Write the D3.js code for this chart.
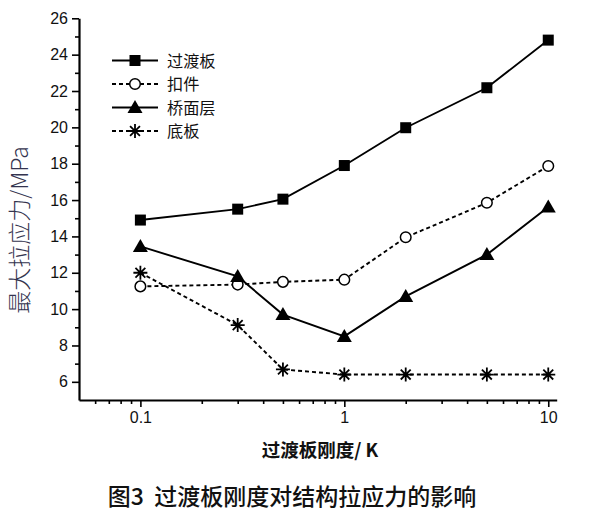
<!DOCTYPE html>
<html><head><meta charset="utf-8">
<script src="https://cdn.jsdelivr.net/npm/d3@7"></script>
<style>body{margin:0;background:#fff;} svg{display:block;}</style>
</head><body>
<svg id="c" width="604" height="515"></svg>
<script>
const xValues = [0.1, 0.3, 0.5, 1, 2, 5, 10];
const seriesNames = ["过渡板", "扣件", "桥面层", "底板"];
const guoduban = [14.9, 15.5, 16.05, 17.9, 19.98, 22.18, 24.8];
const koujian = [11.25, 11.35, 11.5, 11.62, 13.95, 15.85, 17.87];
const qiaomianceng = [13.45, 11.8, 9.7, 8.5, 10.7, 13.0, 15.62];
const diban = [12.0, 9.12, 6.68, 6.4, 6.4, 6.4, 6.4];
const xTickLabels = ["0.1", "1", "10"];
const yTickValues = [6, 8, 10, 12, 14, 16, 18, 20, 22, 24, 26];
const xLabel = "过渡板刚度/ K";
const yLabel = "最大拉应力/MPa";
const caption = "图3  过渡板刚度对结构拉应力的影响";

const svg = d3.select("#c");
const x = d3.scaleLog().domain([0.05, 11]).range([79, 556.7]);
const y = d3.scaleLinear().domain([5, 26]).range([400, 18.3]);

const series = [
  {name: seriesNames[0], values: guoduban, dash: null, marker: "square"},
  {name: seriesNames[1], values: koujian, dash: "4,3", marker: "circle"},
  {name: seriesNames[2], values: qiaomianceng, dash: null, marker: "triangle"},
  {name: seriesNames[3], values: diban, dash: "4,3", marker: "star"}
];

// axes
const minorX = [0.06,0.07,0.08,0.09,0.2,0.3,0.4,0.5,0.6,0.7,0.8,0.9,2,3,4,5,6,7,8,9];
const majorX = xTickLabels.map(Number);
const gx = svg.append("g").attr("transform","translate(0,400)");
gx.call(d3.axisBottom(x).tickValues(majorX).tickFormat((d,i)=>xTickLabels[i]).tickSize(7).tickSizeOuter(0).tickPadding(5));
gx.append("g").call(d3.axisBottom(x).tickValues(minorX).tickFormat("").tickSize(4).tickSizeOuter(0)).select(".domain").remove();
const gy = svg.append("g").attr("transform","translate(79,0)");
gy.call(d3.axisLeft(y).tickValues(yTickValues).tickSize(7).tickSizeOuter(0).tickPadding(4));
gy.append("g").call(d3.axisLeft(y).tickValues(d3.range(7,26,2)).tickFormat("").tickSize(4).tickSizeOuter(0)).select(".domain").remove();
svg.selectAll(".domain").attr("stroke","#000").attr("stroke-width",2.2);
svg.selectAll(".tick line").attr("stroke","#000").attr("stroke-width",1.6);
svg.selectAll(".tick text").attr("font-family","'Liberation Sans', Arial, sans-serif").attr("font-size",16).attr("fill","#111");

function drawMarker(g, type, cx, cy) {
  if (type === "square") {
    g.append("rect").attr("x",cx-5.5).attr("y",cy-5.5).attr("width",11).attr("height",11).attr("fill","#000");
  } else if (type === "circle") {
    g.append("circle").attr("cx",cx).attr("cy",cy).attr("r",5.3).attr("fill","#fff").attr("stroke","#000").attr("stroke-width",1.5);
  } else if (type === "triangle") {
    g.append("path").attr("d",`M${cx},${cy-7.5}L${cx+7.5},${cy+5.5}L${cx-7.5},${cy+5.5}Z`).attr("fill","#000");
  } else {
    const r = 7;
    let d = "";
    for (let k=0;k<4;k++){ const a = k*Math.PI/4; d += `M${cx-r*Math.cos(a)},${cy-r*Math.sin(a)}L${cx+r*Math.cos(a)},${cy+r*Math.sin(a)}`; }
    g.append("path").attr("d",d).attr("stroke","#000").attr("stroke-width",1.8).attr("fill","none");
  }
}

const line = d3.line().x(d=>x(d[0])).y(d=>y(d[1]));
series.forEach(s => {
  const pts = xValues.map((v,i)=>[v, s.values[i]]);
  svg.append("path").datum(pts).attr("d", line).attr("fill","none").attr("stroke","#000").attr("stroke-width",1.9).attr("stroke-dasharray", s.dash);
  const g = svg.append("g");
  pts.forEach(p => drawMarker(g, s.marker, x(p[0]), y(p[1])));
});

// legend
const legY = [60.5, 84, 107.5, 131];
series.forEach((s,i) => {
  const g = svg.append("g");
  g.append("line").attr("x1",112).attr("x2",158).attr("y1",legY[i]).attr("y2",legY[i]).attr("stroke","#000").attr("stroke-width",1.9).attr("stroke-dasharray", s.dash);
  drawMarker(g, s.marker, 135, legY[i]);
  g.append("text").attr("x",167).attr("y",legY[i]+6).text(s.name).attr("font-family","'Noto Sans CJK SC', sans-serif").attr("font-size",16.2).attr("fill","#111");
});

// labels
svg.append("text").attr("transform","translate(28,230) rotate(-90)").attr("text-anchor","middle").text(yLabel)
  .attr("font-family","'Noto Sans CJK SC', serif").attr("font-size",23).attr("font-weight",300).attr("fill","#34344f");
svg.append("text").attr("x",320).attr("y",457).attr("text-anchor","middle").text(xLabel)
  .attr("font-family","'Noto Sans CJK SC', sans-serif").attr("font-size",18.5).attr("font-weight",700).attr("fill","#111");
svg.append("text").attr("x",292).attr("y",505).attr("text-anchor","middle").text(caption).attr("xml:space","preserve")
  .attr("font-family","'Noto Sans CJK SC', sans-serif").attr("font-size",23).attr("font-weight",500).attr("fill","#111");
</script>
</body></html>
